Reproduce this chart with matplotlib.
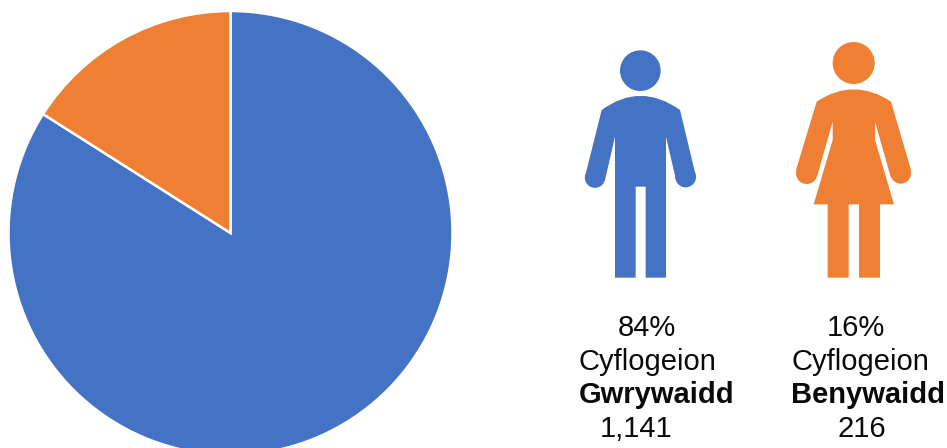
import matplotlib
matplotlib.use("Agg")
import matplotlib.pyplot as plt
from matplotlib.patches import Circle, PathPatch
from matplotlib.path import Path

W, H = 947, 448
BLUE = '#4472C4'
ORANGE = '#EF7F33'
INK = '#0A0A0A'

labels = ['Gwrywaidd', 'Benywaidd']
counts = [1141, 216]
shares = [84, 16]
cyflogeion = 'Cyflogeion'

# centre x of each caption line, one tuple per person
caption_x = [(646.5, 647.5, 656.5, 636.5), (855.5, 860, 868, 861.5)]
caption_y = [336, 370, 403, 437]

plt.rcParams['font.family'] = ['Liberation Sans', 'DejaVu Sans']

fig = plt.figure(figsize=(W / 100, H / 100), dpi=100)
ax = fig.add_axes([0, 0, 1, 1])

# y runs downwards here, so the pie direction is flipped too
ax.pie(shares, colors=[BLUE, ORANGE], startangle=-90, counterclock=True,
       center=(230.5, 233), radius=222,
       wedgeprops={'edgecolor': 'white', 'linewidth': 1.8}, frame=True)
ax.set_xlim(0, W)
ax.set_ylim(H, 0)
ax.set_aspect('auto')
ax.axis('off')


def z(x, y):
    # outline points were measured on a 3x crop starting at (570, 30)
    return 570 + x / 3, 30 + y / 3


def icon(start, ctrl, end, pts, hands, head, color):
    # shoulders are one curve, everything else straight lines
    verts = [z(*start), z(*ctrl), z(*end)] + [z(*p) for p in pts] + [z(*start)]
    codes = [Path.MOVETO, Path.CURVE3, Path.CURVE3] + [Path.LINETO] * len(pts) + [Path.CLOSEPOLY]
    ax.add_patch(PathPatch(Path(verts, codes), facecolor=color, lw=0))
    for hx, hy, r in hands:
        ax.add_patch(Circle(z(hx, hy), r / 3, facecolor=color, lw=0))
    ax.add_patch(Circle(z(head[0], head[1]), head[2] / 3, facecolor=color, lw=0))


# man
icon((95, 240), (211, 155), (330, 240),
     [(378, 440), (318, 450), (288, 320), (288, 743), (227, 743), (227, 470),
      (197, 470), (197, 743), (135, 743), (135, 320), (105, 450), (45, 440)],
     [(75, 443, 30.5), (347, 441, 31)], (211, 122, 61), BLUE)

# woman
icon((740, 215), (851, 141), (963, 215),
     [(1023, 420), (962, 440), (915, 275), (915, 330), (972, 523), (930, 523),
      (930, 743), (867, 743), (867, 523), (836, 523), (836, 743), (773, 743),
      (773, 523), (731, 523), (788, 330), (788, 275), (741, 440), (678, 420)],
     [(710, 430, 32), (992, 430, 31)], (851, 99, 63), ORANGE)

# captions
for i in range(2):
    xs = caption_x[i]
    ax.text(xs[0], caption_y[0], f'{shares[i]}%', fontsize=21, ha='center', va='baseline', color=INK)
    ax.text(xs[1], caption_y[1], cyflogeion, fontsize=21, ha='center', va='baseline', color=INK)
    ax.text(xs[2], caption_y[2], labels[i], fontsize=21, fontweight='bold', ha='center', va='baseline', color=INK)
    ax.text(xs[3], caption_y[3], f'{counts[i]:,}', fontsize=21, ha='center', va='baseline', color=INK)

fig.savefig('out.png', dpi=100)
